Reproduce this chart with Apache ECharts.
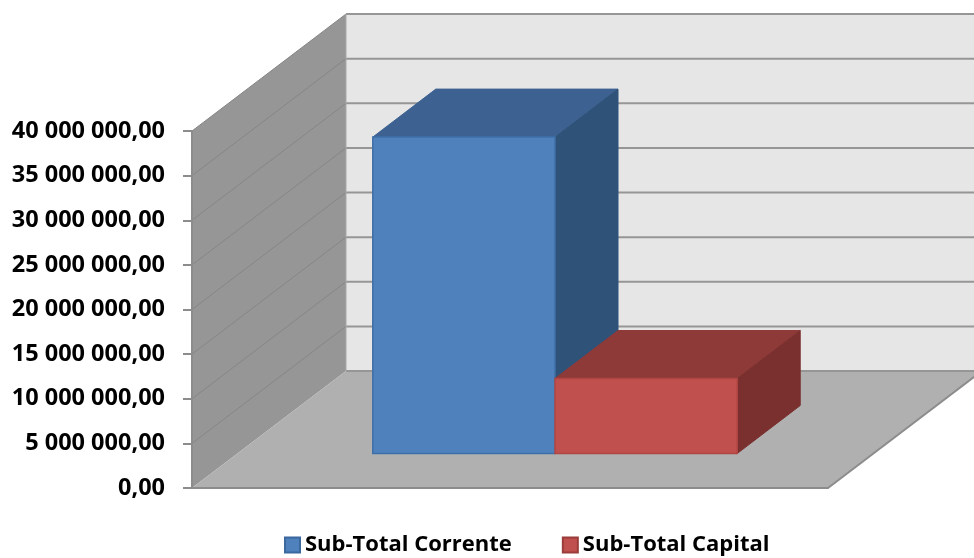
<!DOCTYPE html>
<html><head><meta charset="utf-8">
<style>html,body{margin:0;padding:0;background:#fff}#c{width:974px;height:558px}</style>
<script src="https://cdn.jsdelivr.net/npm/echarts@6/dist/echarts.min.js"></script>
</head><body><div id="c"></div>
<script>
var categories = ['Total'];
var correnteName = 'Sub-Total Corrente';
var capitalName = 'Sub-Total Capital';
var correnteValues = [35450000];
var capitalValues = [8400000];
var tickValues = [0, 5000000, 10000000, 15000000, 20000000, 25000000, 30000000, 35000000, 40000000];

var FONT = '"Open Sans", sans-serif';
var WALL_DX = 154, WALL_DY = -117;
var BAR_START_DX = 45, BAR_START_DY = -34.5;
var BAR_DX = 63, BAR_DY = -48;
var BAR_WIDTH_RATIO = 0.2865;

function poly(points, fill, stroke, lw) {
  return { type: 'polygon', shape: { points: points },
    style: { fill: fill, stroke: stroke || null, lineWidth: lw || 0 } };
}
function seg(a, b, stroke, lw) {
  return { type: 'line', shape: { x1: a[0], y1: a[1], x2: b[0], y2: b[1] },
    style: { stroke: stroke, lineWidth: lw, fill: null } };
}
function back(p) { return [p[0] + WALL_DX, p[1] + WALL_DY]; }

function renderWalls(params, api) {
  var band = api.size([1, 0])[0];
  var cx = api.coord([0, 0])[0];
  var L = cx - band / 2, R = cx + band / 2;
  var maxV = tickValues[tickValues.length - 1];
  var y0 = api.coord([0, 0])[1], yMax = api.coord([0, maxV])[1];
  var children = [];
  children.push(poly([back([L, yMax]), back([R, yMax]), back([R, y0]), back([L, y0])], '#e6e6e6'));
  children.push(poly([[L, y0], [L, yMax], back([L, yMax]), back([L, y0])], '#969696'));
  children.push(poly([[L, y0], [R, y0], back([R, y0]), back([L, y0])], '#b0b0b0'));
  tickValues.forEach(function (v) {
    var y = api.coord([0, v])[1];
    var p = [L, y], q = back(p), r = back([R, y]);
    if (v > 0) children.push(seg(p, q, '#868686', 1));
    children.push(seg(q, r, '#969696', 2));
  });
  children.push(seg(back([L, yMax]), back([L, y0]), '#a8a8a8', 1));
  children.push(seg([R, y0], back([R, y0]), '#8c8c8c', 2));
  return { type: 'group', children: children };
}

function barRenderer(index, front, top, side, edge) {
  return function (params, api) {
    var band = api.size([1, 0])[0];
    var cx = api.coord([api.value(0), 0])[0];
    var w = band * BAR_WIDTH_RATIO;
    var x0 = cx - w + index * w + BAR_START_DX, x1 = x0 + w;
    var yb = api.coord([api.value(0), 0])[1] + BAR_START_DY;
    var yt = api.coord([api.value(0), api.value(1)])[1] + BAR_START_DY;
    return { type: 'group', children: [
      poly([[x0, yt], [x1, yt], [x1 + BAR_DX, yt + BAR_DY], [x0 + BAR_DX, yt + BAR_DY]], top, top, 1),
      poly([[x1, yt], [x1 + BAR_DX, yt + BAR_DY], [x1 + BAR_DX, yb + BAR_DY], [x1, yb]], side, side, 1),
      poly([[x0, yt], [x1, yt], [x1, yb], [x0, yb]], front, edge, 1.5)
    ] };
  };
}

var chart = echarts.init(document.getElementById('c'), null, { renderer: 'canvas' });
chart.setOption({
  animation: false,
  backgroundColor: '#ffffff',
  grid: { left: 192, top: 131, width: 636, height: 357, containLabel: false },
  xAxis: { type: 'category', data: categories, boundaryGap: true, z: 6,
    axisLabel: { show: false }, axisTick: { show: false },
    axisLine: { show: true, lineStyle: { color: '#8c8c8c', width: 2 } }, splitLine: { show: false } },
  yAxis: { type: 'value', min: 0, max: 40000000, interval: 5000000, z: 6,
    axisLine: { show: true, lineStyle: { color: '#8c8c8c', width: 2 } },
    axisTick: { show: true, length: 9, lineStyle: { color: '#8c8c8c', width: 2 } },
    splitLine: { show: false },
    axisLabel: { margin: 27, color: '#000', fontFamily: FONT, fontWeight: 'bold', fontSize: 23.5, padding: [7, 0, 0, 0],
      formatter: function (v) {
        return String(v).replace(/\B(?=(\d{3})+$)/g, ' ') + ',00';
      } } },
  legend: { show: true, data: [correnteName, capitalName], left: 279, top: 529, itemWidth: 15, itemHeight: 15,
    itemGap: 50, icon: 'rect', textStyle: { color: '#000', fontFamily: FONT, fontWeight: 'bold', fontSize: 22, padding: [4, 0, 0, 0] } },
  series: [
    { type: 'custom', name: 'walls', silent: true, z: 1, data: [[0, 0]], renderItem: renderWalls },
    { type: 'custom', name: correnteName, z: 2,
      itemStyle: { color: '#4f81bd', borderColor: '#3a689f', borderWidth: 1.5 },
      data: correnteValues.map(function (v, i) { return [i, v]; }),
      encode: { x: 0, y: 1 },
      renderItem: barRenderer(0, '#4f81bd', '#3d6291', '#2f5278', '#3f6fa8') },
    { type: 'custom', name: capitalName, z: 3,
      itemStyle: { color: '#c0504d', borderColor: '#9a3d3a', borderWidth: 1.5 },
      data: capitalValues.map(function (v, i) { return [i, v]; }),
      encode: { x: 0, y: 1 },
      renderItem: barRenderer(1, '#c0504d', '#8e3a38', '#7a302e', '#b04643') }
  ]
});
</script></body></html>
